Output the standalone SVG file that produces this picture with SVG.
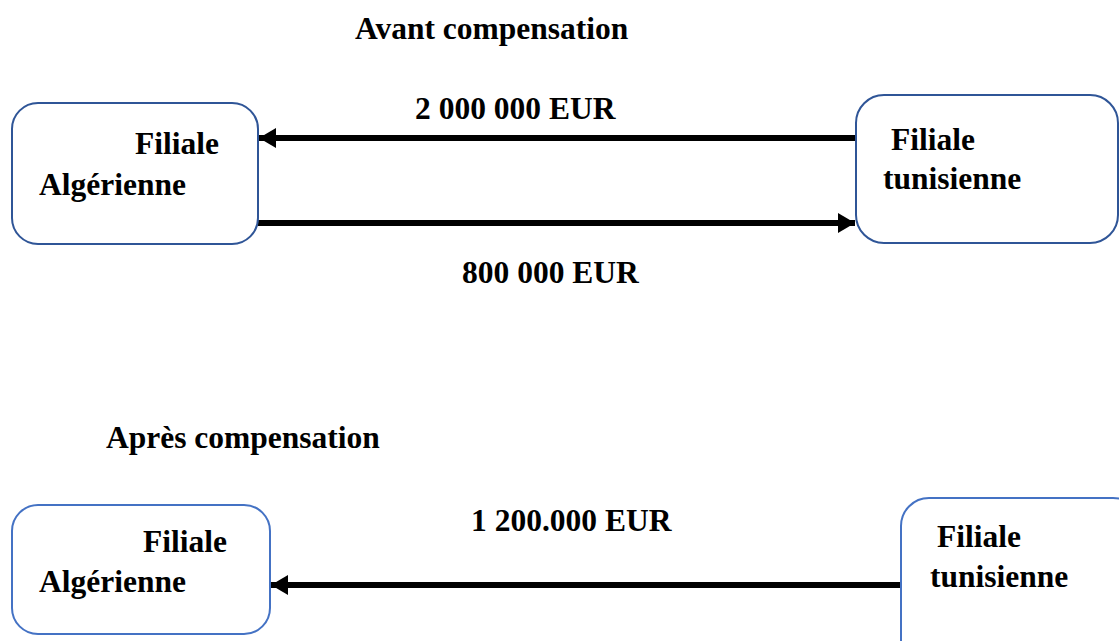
<svg xmlns="http://www.w3.org/2000/svg" width="1119" height="641" viewBox="0 0 1119 641">
<style>
text{font-family:"Liberation Serif","Times New Roman",serif;font-weight:bold;font-size:31.5px;fill:#000}
.box{fill:#fff;stroke-width:2}
.b1{stroke:#2F5597}
.b2{stroke:#4472C4}
.conn{stroke:#000;stroke-width:6;fill:none}
</style>
<defs>
<marker id="ah" markerWidth="17" markerHeight="20" refX="17" refY="10" orient="auto" markerUnits="userSpaceOnUse">
<path d="M0,0 L17,10 L0,20 Z" fill="#000"/>
</marker>
</defs>
<rect width="1119" height="641" fill="#fff"/>
<text x="355" y="39">Avant compensation</text>
<text x="106" y="448">Après compensation</text>
<g id="connectors">
<line class="conn" x1="855" y1="138" x2="259" y2="138" marker-end="url(#ah)"/>
<line class="conn" x1="258" y1="223" x2="855" y2="223" marker-end="url(#ah)"/>
<line class="conn" x1="901" y1="585" x2="271" y2="585" marker-end="url(#ah)"/>
<text x="415" y="119">2 000 000 EUR</text>
<text x="462" y="283">800 000 EUR</text>
<text x="471" y="531">1 200.000 EUR</text>
</g>
<g id="alg1">
<rect class="box b1" x="12" y="103" width="246" height="141" rx="26"/>
<text x="135" y="154">Filiale</text>
<text x="39" y="195">Algérienne</text>
</g>
<g id="tun1">
<rect class="box b1" x="856" y="95" width="262" height="148" rx="28"/>
<text x="891" y="150">Filiale</text>
<text x="883" y="189">tunisienne</text>
</g>
<g id="alg2">
<rect class="box b2" x="12" y="505" width="258" height="129" rx="26"/>
<text x="143" y="552">Filiale</text>
<text x="39" y="592">Algérienne</text>
</g>
<g id="tun2">
<rect class="box b2" x="901" y="498" width="240" height="170" rx="28"/>
<text x="937" y="547">Filiale</text>
<text x="930" y="587">tunisienne</text>
</g>
</svg>
